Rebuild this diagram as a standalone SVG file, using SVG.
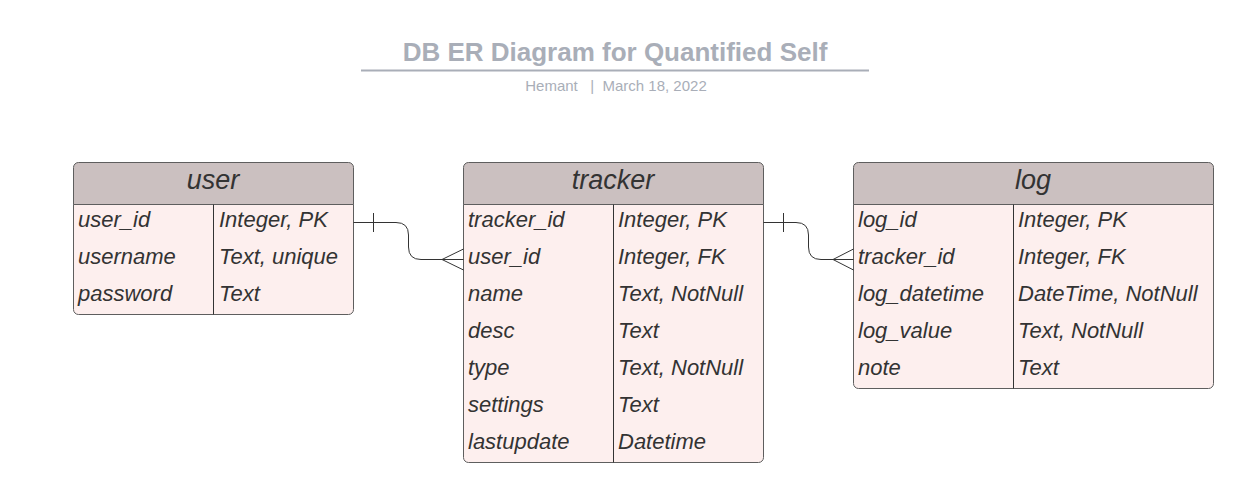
<svg xmlns="http://www.w3.org/2000/svg" width="1253" height="503" viewBox="0 0 1253 503">
<style>
.title{font-family:"Liberation Sans",Arial,sans-serif;font-weight:bold;font-size:26px;fill:#a9aeb8}
.sub{font-family:"Liberation Sans",Arial,sans-serif;font-size:15px;fill:#a9aeb8}
.hdr{fill:#cbc0c0;stroke:#5e5e5e;stroke-width:1}
.body{fill:#fdefee;stroke:#5e5e5e;stroke-width:1}
.div{stroke:#333;stroke-width:1}
.ht{font-family:"Liberation Sans",Arial,sans-serif;font-style:italic;font-size:27px;fill:#333;text-anchor:middle}
.rt{font-family:"Liberation Sans",Arial,sans-serif;font-style:italic;font-size:22px;fill:#333}
.con{fill:none;stroke:#333;stroke-width:1}
</style>
<rect width="1253" height="503" fill="#ffffff"/>
<g id="title">
<text class="title" x="615" y="61" text-anchor="middle">DB ER Diagram for Quantified Self</text>
<line x1="361" y1="70.5" x2="869" y2="70.5" stroke="#a9aeb8" stroke-width="2"/>
<text class="sub" x="616" y="91" text-anchor="middle" xml:space="preserve">Hemant   |  March 18, 2022</text>
</g>
<g id="user">
<path class="body" d="M73.5,204.5 H353.5 V309.5 a5,5 0 0 1 -5,5 H78.5 a5,5 0 0 1 -5,-5 Z"/>
<path class="hdr" d="M78.5,162.5 H348.5 a5,5 0 0 1 5,5 V204.5 H73.5 V167.5 a5,5 0 0 1 5,-5 Z"/>
<line class="div" x1="213.5" y1="204.5" x2="213.5" y2="314.5"/>
<text class="ht" x="213" y="189">user</text>
<text class="rt" x="78" y="227">user_id</text><text class="rt" x="219" y="227">Integer, PK</text>
<text class="rt" x="78" y="264">username</text><text class="rt" x="219" y="264">Text, unique</text>
<text class="rt" x="78" y="301">password</text><text class="rt" x="219" y="301">Text</text>
</g>
<g id="tracker">
<path class="body" d="M463.5,204.5 H763.5 V457.5 a5,5 0 0 1 -5,5 H468.5 a5,5 0 0 1 -5,-5 Z"/>
<path class="hdr" d="M468.5,162.5 H758.5 a5,5 0 0 1 5,5 V204.5 H463.5 V167.5 a5,5 0 0 1 5,-5 Z"/>
<line class="div" x1="613.5" y1="204.5" x2="613.5" y2="462.5"/>
<text class="ht" x="613" y="189">tracker</text>
<text class="rt" x="468" y="227">tracker_id</text><text class="rt" x="618" y="227">Integer, PK</text>
<text class="rt" x="468" y="264">user_id</text><text class="rt" x="618" y="264">Integer, FK</text>
<text class="rt" x="468" y="301">name</text><text class="rt" x="618" y="301">Text, NotNull</text>
<text class="rt" x="468" y="338">desc</text><text class="rt" x="618" y="338">Text</text>
<text class="rt" x="468" y="375">type</text><text class="rt" x="618" y="375">Text, NotNull</text>
<text class="rt" x="468" y="412">settings</text><text class="rt" x="618" y="412">Text</text>
<text class="rt" x="468" y="449">lastupdate</text><text class="rt" x="618" y="449">Datetime</text>
</g>
<g id="log">
<path class="body" d="M853.5,204.5 H1213.5 V383.5 a5,5 0 0 1 -5,5 H858.5 a5,5 0 0 1 -5,-5 Z"/>
<path class="hdr" d="M858.5,162.5 H1208.5 a5,5 0 0 1 5,5 V204.5 H853.5 V167.5 a5,5 0 0 1 5,-5 Z"/>
<line class="div" x1="1013.5" y1="204.5" x2="1013.5" y2="388.5"/>
<text class="ht" x="1033" y="189">log</text>
<text class="rt" x="858" y="227">log_id</text><text class="rt" x="1018" y="227">Integer, PK</text>
<text class="rt" x="858" y="264">tracker_id</text><text class="rt" x="1018" y="264">Integer, FK</text>
<text class="rt" x="858" y="301">log_datetime</text><text class="rt" x="1018" y="301">DateTime, NotNull</text>
<text class="rt" x="858" y="338">log_value</text><text class="rt" x="1018" y="338">Text, NotNull</text>
<text class="rt" x="858" y="375">note</text><text class="rt" x="1018" y="375">Text</text>
</g>
<g id="connectors">
<path class="con" d="M353.5,222.5 H396 Q408.5,222.5 408.5,235 V247 Q408.5,259.5 421,259.5 H463.5"/>
<line class="con" x1="373.5" y1="213" x2="373.5" y2="232"/>
<path class="con" d="M463.5,249 L442,259.5 L463.5,270"/>
<path class="con" d="M763.5,222.5 H796 Q808.5,222.5 808.5,235 V247 Q808.5,259.5 821,259.5 H853.5"/>
<line class="con" x1="783.5" y1="213" x2="783.5" y2="232"/>
<path class="con" d="M853.5,249 L833,259.5 L853.5,270"/>
</g>
</svg>
